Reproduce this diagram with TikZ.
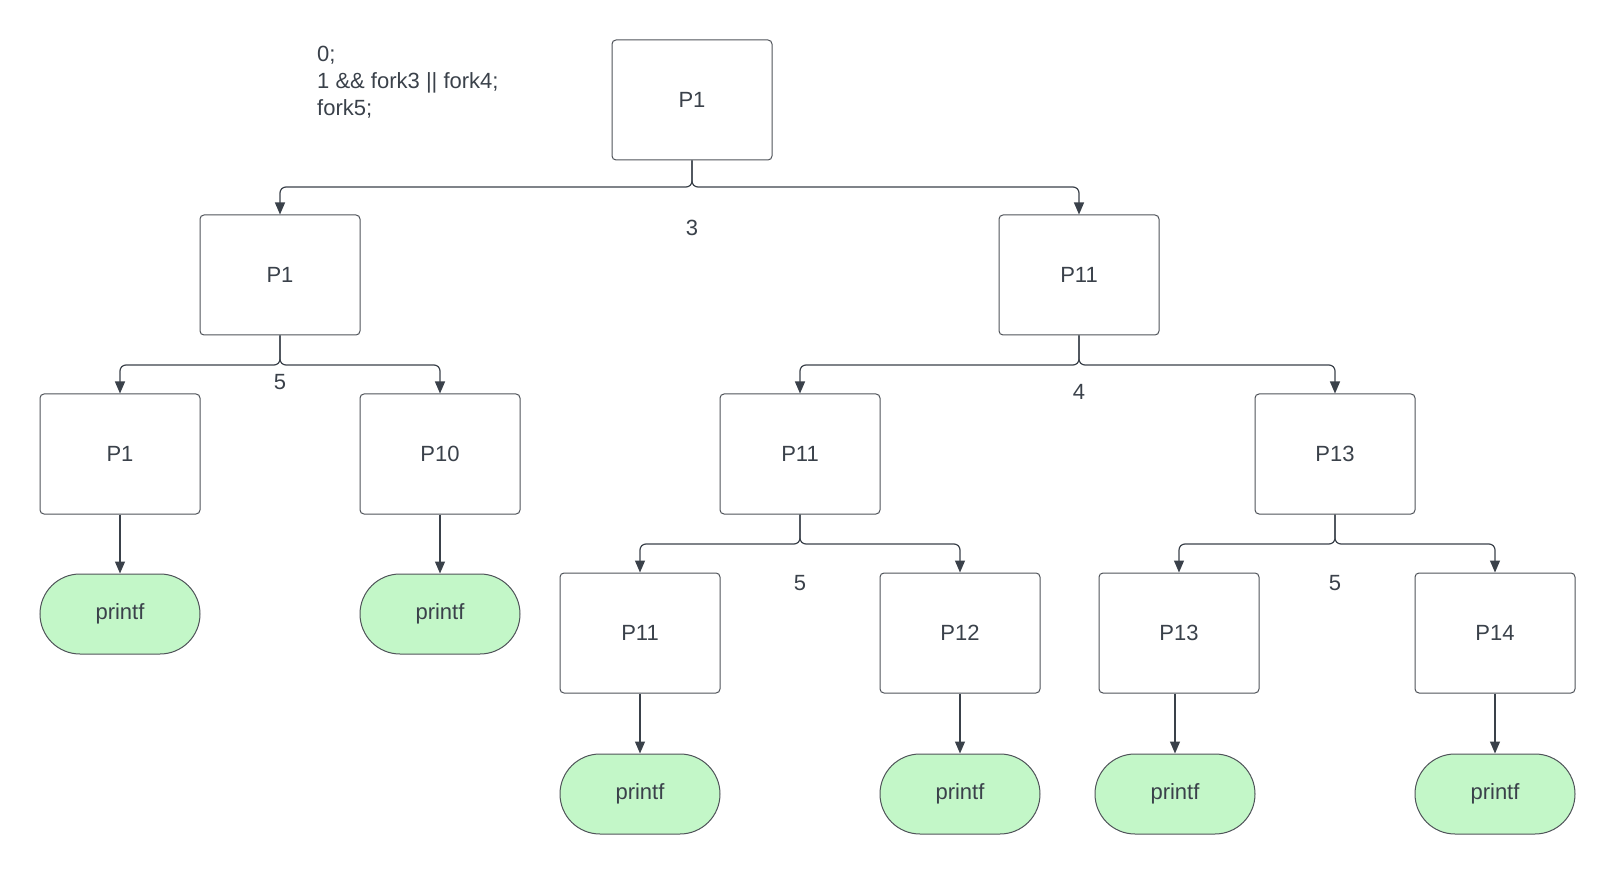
\documentclass[tikz,border=0pt]{standalone}
\usepackage{fontspec}
\setmainfont{Liberation Sans}
\usetikzlibrary{arrows.meta}
\definecolor{ln}{HTML}{3A414A}
\definecolor{bx}{HTML}{4F5359}
\definecolor{grn}{HTML}{C3F7C8}
\begin{document}
\begin{tikzpicture}[x=1pt,y=-1pt,
  txt/.style={font=\fontsize{22}{27}\selectfont,text=ln},
  box/.style={txt,draw=bx,line width=1pt,rounded corners=4pt,minimum width=160pt,minimum height=120pt,inner sep=0pt},
  pf/.style={txt,draw=bx,fill=grn,line width=1pt,rounded corners=40pt,minimum width=160pt,minimum height=80pt,inner sep=0pt},
  conn/.style={draw=ln,line width=1.2pt,rounded corners=6pt,-{Triangle[width=10pt,length=12pt]}},
  lbl/.style={txt,inner sep=0pt}]
\useasboundingbox (0,0) rectangle (1615,874);
\coordinate (s1) at (0,187);
\coordinate (s2) at (0,365);
\coordinate (s3) at (0,544);
\node[box] (top) at (692,100) {P1};
\node[box] (a) at (280,275) {P1};
\node[box] (b) at (1079,275) {P11};
\node[box] (aa) at (120,454) {P1};
\node[box] (ab) at (440,454) {P10};
\node[box] (ba) at (800,454) {P11};
\node[box] (bb) at (1335,454) {P13};
\node[box] (baa) at (640,633) {P11};
\node[box] (bab) at (960,633) {P12};
\node[box] (bba) at (1179,633) {P13};
\node[box] (bbb) at (1495,633) {P14};
\node[pf] (paa) at (120,614) {printf};
\node[pf] (pab) at (440,614) {printf};
\node[pf] (pbaa) at (640,794) {printf};
\node[pf] (pbab) at (960,794) {printf};
\node[pf] (pbba) at (1175,794) {printf};
\node[pf] (pbbb) at (1495,794) {printf};
\node[lbl] (l3) at (692,228) {3};
\node[lbl] (l5a) at (280,382) {5};
\node[lbl] (l4) at (1079,392) {4};
\node[lbl] (l5b) at (800,583) {5};
\node[lbl] (l5c) at (1335,583) {5};
\node[lbl,anchor=north west,align=left] (code) at (317,46) {0;\\1 \&\& fork3 || fork4;\\fork5;};
\draw[conn] (top.south) -- (top.south |- s1) -| (a.north);
\draw[conn] (top.south) -- (top.south |- s1) -| (b.north);
\draw[conn] (a.south) -- (a.south |- s2) -| (aa.north);
\draw[conn] (a.south) -- (a.south |- s2) -| (ab.north);
\draw[conn] (b.south) -- (b.south |- s2) -| (ba.north);
\draw[conn] (b.south) -- (b.south |- s2) -| (bb.north);
\draw[conn] (ba.south) -- (ba.south |- s3) -| (baa.north);
\draw[conn] (ba.south) -- (ba.south |- s3) -| (bab.north);
\draw[conn] (bb.south) -- (bb.south |- s3) -| (bba.north);
\draw[conn] (bb.south) -- (bb.south |- s3) -| (bbb.north);
\draw[conn] (aa.south) -- (paa.north);
\draw[conn] (ab.south) -- (pab.north);
\draw[conn] (baa.south) -- (pbaa.north);
\draw[conn] (bab.south) -- (pbab.north);
\draw[conn] (pbba.north |- bba.south) -- (pbba.north);
\draw[conn] (bbb.south) -- (pbbb.north);
\end{tikzpicture}
\end{document}
